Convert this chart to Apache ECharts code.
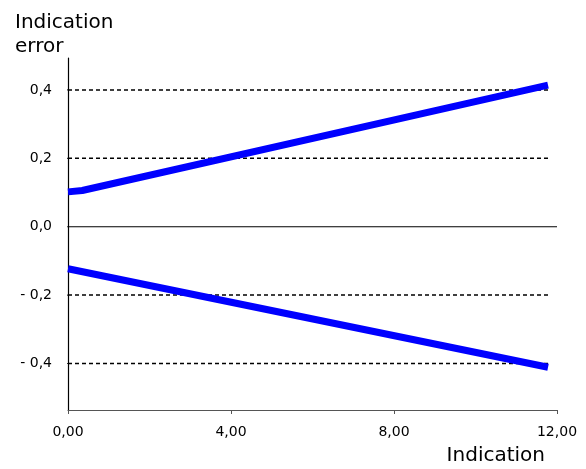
<!DOCTYPE html>
<html><head><meta charset="utf-8">
<script src="https://cdn.jsdelivr.net/npm/echarts@6/dist/echarts.min.js"></script>
<style>html,body{margin:0;padding:0;background:#fff}#c{width:586px;height:469px}</style>
</head><body><div id="c"></div>
<script>
var upperX = [0, 0.35, 11.78];
var upperY = [0.102, 0.106, 0.414];
var lowerX = [0, 11.78];
var lowerY = [-0.123, -0.411];
var refLevels = [0.4, 0.2, -0.2, -0.4];
var refXRange = [0, 11.78];
var zeroXRange = [0, 12];
var yTicks = [-0.4, -0.2, 0, 0.2, 0.4];
var yTickMin = -0.4, yTickMax = 0.4, yTickStep = 0.2;
var tickXRange = [-0.25, 0];

function pairs(xs, ys){ return xs.map(function(x,i){return [x, ys[i]];}); }
var font = 'DejaVu Sans, Verdana, sans-serif';
var series = [];
refLevels.forEach(function(l){
  series.push({type:'line', data: refXRange.map(function(x){return [x,l];}), symbol:'none', silent:true,
    lineStyle:{color:'#000', width:1.5, type:[4,3]}, z:1});
});
series.push({type:'line', data: zeroXRange.map(function(x){return [x,0];}), symbol:'none', silent:true,
  lineStyle:{color:'#000', width:1.2}, z:1});
series.push({type:'line', data: pairs(upperX, upperY), symbol:'none', lineStyle:{color:'#0000ff', width:7, cap:'butt'}, z:3});
series.push({type:'line', data: pairs(lowerX, lowerY), symbol:'none', lineStyle:{color:'#0000ff', width:7, cap:'butt'}, z:3});
// y-axis tick marks, left of the axis
yTicks.forEach(function(t){
  series.push({type:'line', data: tickXRange.map(function(x){return [x,t];}), symbol:'none', silent:true, clip:false,
    lineStyle:{color:'#333', width:1.2}, z:2});
});

var chart = echarts.init(document.getElementById('c'), null, {renderer:'canvas'});
chart.setOption({
  animation:false,
  title:[
    {text:'Indication\nerror', left:10, top:6, textStyle:{fontFamily:font, fontSize:20, fontWeight:'normal', color:'#000', lineHeight:24}},
    {text:'Indication', right:36, top:441, textStyle:{fontFamily:font, fontSize:20, fontWeight:'normal', color:'#000'}}
  ],
  grid:[
    {left:68, right:29, top:58, bottom:59},
    {left:58, right:518, top:90, bottom:105.6}
  ],
  xAxis:[
    {type:'value', gridIndex:0, min:0, max:12, interval:4,
      axisLine:{onZero:false, lineStyle:{color:'#555', width:1.2}},
      axisTick:{show:true, length:4, lineStyle:{color:'#555'}},
      splitLine:{show:false},
      axisLabel:{fontFamily:font, fontSize:14, color:'#000', margin:15,
        formatter:function(v){return v.toFixed(2).replace('.',',');}}
    },
    {type:'value', gridIndex:1, min:0, max:1, show:false}
  ],
  yAxis:[
    {type:'value', gridIndex:0, min:-0.536, max:0.4935,
      axisLine:{show:true, onZero:false, lineStyle:{color:'#000', width:1.2}},
      axisTick:{show:false}, axisLabel:{show:false}, splitLine:{show:false}
    },
    {type:'value', gridIndex:1, min:yTickMin, max:yTickMax, interval:yTickStep,
      axisLine:{show:false, onZero:false},
      axisTick:{show:false},
      splitLine:{show:false},
      axisLabel:{fontFamily:font, fontSize:14, color:'#000', margin:6,
        formatter:function(v){var s=Math.abs(v).toFixed(1).replace('.',','); return v<-1e-9 ? '- '+s : s;}}
    }
  ],
  series:series
});
</script></body></html>
